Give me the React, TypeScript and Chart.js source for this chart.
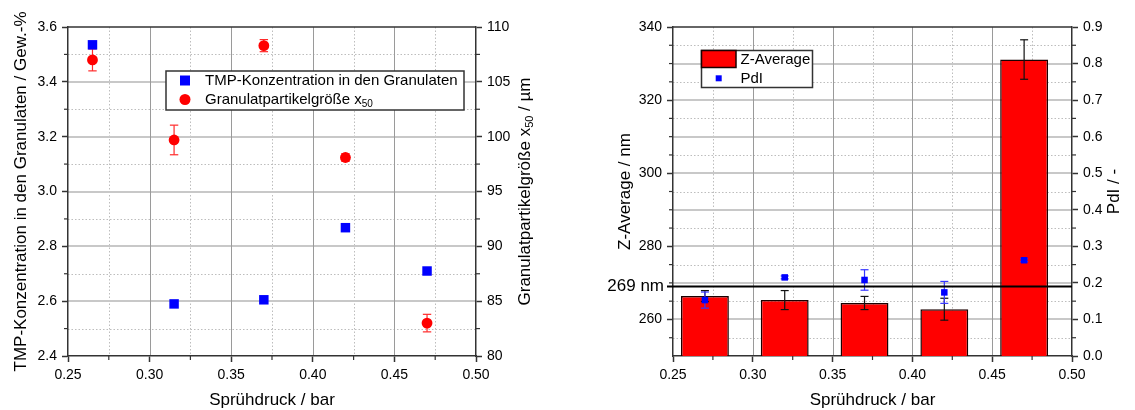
import React, { useEffect, useRef } from "react";
import { Chart, registerables } from "chart.js";
Chart.register(...registerables);

const FAMILY = '"Liberation Sans", Arial, Helvetica, sans-serif';

// ---------------- left chart data ----------------
const leftPressure = [0.265, 0.315, 0.37, 0.42, 0.47];
const tmpConcentration = [3.535, 2.59, 2.605, 2.868, 2.71];
const granuleSize = [107.0, 99.7, 108.3, 98.1, 83.0];
const granuleSizeErr = [1.0, 1.35, 0.55, 0.35, 0.8];
const leftXTicks = [0.25, 0.3, 0.35, 0.4, 0.45, 0.5];
const leftXMinor = [0.275, 0.325, 0.375, 0.425, 0.475];
const leftYTicks = [2.4, 2.6, 2.8, 3.0, 3.2, 3.4, 3.6];
const leftYMinor = [2.5, 2.7, 2.9, 3.1, 3.3, 3.5];
const leftY1Ticks = [80, 85, 90, 95, 100, 105, 110];
const leftY1Minor = [82.5, 87.5, 92.5, 97.5, 102.5, 107.5];
const leftXTitle = "Sprühdruck / bar";
const leftYTitle = "TMP-Konzentration in den Granulaten / Gew.-%";
const leftY1Title = ["Granulatpartikelgröße x", "50", " / µm"];
const leftLegendTmp = "TMP-Konzentration in den Granulaten";
const leftLegendSize = ["Granulatpartikelgröße x", "50"];

// ---------------- right chart data ----------------
const rightPressure = [0.27, 0.32, 0.37, 0.42, 0.47];
const zAverage = [266.4, 265.3, 264.5, 262.8, 331.1];
const zAverageErr = [1.5, 2.6, 1.8, 3.0, 5.4];
const pdi = [0.153, 0.215, 0.208, 0.174, 0.262];
const pdiErr = [0.022, 0.004, 0.028, 0.03, 0.004];
const zReference = 269;
const zReferenceLabel = "269 nm";
const rightXTicks = [0.25, 0.3, 0.35, 0.4, 0.45, 0.5];
const rightXMinor = [0.275, 0.325, 0.375, 0.425, 0.475];
const rightYTicks = [260, 280, 300, 320, 340];
const rightYMinor = [255, 265, 270, 275, 285, 290, 295, 305, 310, 315, 325, 330, 335];
const rightY1Ticks = [0, 0.1, 0.2, 0.3, 0.4, 0.5, 0.6, 0.7, 0.8, 0.9];
const rightY1Minor = [0.05, 0.15, 0.25, 0.35, 0.45, 0.55, 0.65, 0.75, 0.85];
const rightXTitle = "Sprühdruck / bar";
const rightYTitle = "Z-Average / nm";
const rightY1Title = "PdI / -";
const rightLegend = ["Z-Average", "PdI"];

// ---------------- helpers ----------------
const AXIS = "#333333";

function seg(ctx: CanvasRenderingContext2D, x1: number, y1: number, x2: number, y2: number) {
  ctx.beginPath();
  ctx.moveTo(x1, y1);
  ctx.lineTo(x2, y2);
  ctx.stroke();
}

function drawGrid(chart: any, yId: string, xMajor: number[], xMinor: number[], yMajor: number[], yMinor: number[]) {
  const { ctx, chartArea: a } = chart;
  const xs = chart.scales.x;
  const ys = chart.scales[yId];
  ctx.save();
  ctx.lineWidth = 1;
  ctx.strokeStyle = "#bdbdbd";
  ctx.setLineDash([1.5, 2]);
  xMinor.forEach((v) => {
    const p = Math.round(xs.getPixelForValue(v)) + 0.5;
    seg(ctx, p, a.top, p, a.bottom);
  });
  yMinor.forEach((v) => {
    const p = Math.round(ys.getPixelForValue(v)) + 0.5;
    seg(ctx, a.left, p, a.right, p);
  });
  ctx.setLineDash([]);
  ctx.strokeStyle = "#c8c8c8";
  ctx.lineWidth = 2;
  yMajor.forEach((v) => {
    const p = Math.round(ys.getPixelForValue(v));
    if (p <= a.top + 1 || p >= a.bottom - 1) return;
    seg(ctx, a.left, p, a.right, p);
  });
  ctx.strokeStyle = "#9a9a9a";
  ctx.lineWidth = 1;
  xMajor.forEach((v) => {
    const p = Math.round(xs.getPixelForValue(v)) + 0.5;
    if (p <= a.left + 1 || p >= a.right - 1) return;
    seg(ctx, p, a.top, p, a.bottom);
  });
  ctx.restore();
}

function drawMinorTicks(chart: any, id: string, values: number[], side: "left" | "right" | "bottom") {
  const { ctx, chartArea: a } = chart;
  const s = chart.scales[id];
  ctx.save();
  ctx.strokeStyle = AXIS;
  ctx.lineWidth = 1.2;
  const len = 4;
  values.forEach((v) => {
    const p = s.getPixelForValue(v);
    if (side === "bottom") seg(ctx, p, a.bottom, p, a.bottom + len);
    else if (side === "left") seg(ctx, a.left - len, p, a.left, p);
    else seg(ctx, a.right, p, a.right + len, p);
  });
  ctx.restore();
}

function drawTopBorder(chart: any) {
  const { ctx, chartArea: a } = chart;
  ctx.save();
  ctx.strokeStyle = AXIS;
  ctx.lineWidth = 1.5;
  seg(ctx, a.left, a.top, a.right, a.top);
  ctx.restore();
}

function drawErrorBars(chart: any, yId: string, xs: number[], ys: number[], errs: number[], color: string, cap: number) {
  const { ctx } = chart;
  const sx = chart.scales.x;
  const sy = chart.scales[yId];
  ctx.save();
  ctx.strokeStyle = color;
  ctx.lineWidth = 1.2;
  xs.forEach((xv, i) => {
    const e = errs[i];
    if (!e) return;
    const px = sx.getPixelForValue(xv);
    const top = sy.getPixelForValue(ys[i] + e);
    const bot = sy.getPixelForValue(ys[i] - e);
    seg(ctx, px, top, px, bot);
    seg(ctx, px - cap, top, px + cap, top);
    seg(ctx, px - cap, bot, px + cap, bot);
  });
  ctx.restore();
}

type Part = { text: string; sub?: boolean };
function drawRich(ctx: CanvasRenderingContext2D, parts: Part[], x: number, y: number, align: "left" | "center", size: number) {
  const subSize = Math.round(size * 0.66);
  const widths = parts.map((p) => {
    ctx.font = `${p.sub ? subSize : size}px ${FAMILY}`;
    return ctx.measureText(p.text).width;
  });
  const total = widths.reduce((s, w) => s + w, 0);
  let cur = align === "center" ? x - total / 2 : x;
  ctx.textAlign = "left";
  ctx.textBaseline = "middle";
  ctx.fillStyle = "#000";
  parts.forEach((p, i) => {
    ctx.font = `${p.sub ? subSize : size}px ${FAMILY}`;
    ctx.fillText(p.text, cur, p.sub ? y + size * 0.3 : y);
    cur += widths[i];
  });
}

function drawVerticalTitle(ctx: CanvasRenderingContext2D, parts: Part[], cx: number, cy: number, size: number) {
  ctx.save();
  ctx.translate(cx, cy);
  ctx.rotate(-Math.PI / 2);
  drawRich(ctx, parts, 0, 0, "center", size);
  ctx.restore();
}

const tickFont = { family: FAMILY, size: 14 };
const axisCommon = (w: number | null, h: number | null) => ({
  afterFit: (s: any) => {
    if (w !== null) s.width = w;
    if (h !== null) s.height = h;
  },
  grid: { drawOnChartArea: false, drawTicks: true, tickLength: 6, tickColor: AXIS, tickWidth: 1.5, offset: false },
  border: { color: AXIS, width: 1.5 },
});

// ---------------- configs ----------------
function leftConfig(): any {
  const plugin = {
    id: "leftDeco",
    beforeDraw(chart: any) {
      drawGrid(chart, "y", leftXTicks, leftXMinor, leftYTicks, leftYMinor);
    },
    beforeDatasetDraw(chart: any, args: any) {
      if (args.index === 1) {
        drawErrorBars(chart, "y1", leftPressure, granuleSize, granuleSizeErr, "#ff2a2a", 4.2);
      }
    },
    afterDraw(chart: any) {
      const { ctx, chartArea: a } = chart;
      drawTopBorder(chart);
      drawMinorTicks(chart, "x", leftXMinor, "bottom");
      drawMinorTicks(chart, "y", leftYMinor, "left");
      drawMinorTicks(chart, "y1", leftY1Minor, "right");
      // titles
      drawRich(ctx, [{ text: leftXTitle }], (a.left + a.right) / 2, 400, "center", 17);
      drawVerticalTitle(ctx, [{ text: leftYTitle }], 21, (a.top + a.bottom) / 2, 17);
      drawVerticalTitle(
        ctx,
        [{ text: leftY1Title[0] }, { text: leftY1Title[1], sub: true }, { text: leftY1Title[2] }],
        525,
        (a.top + a.bottom) / 2,
        17
      );
      // legend
      ctx.save();
      ctx.fillStyle = "#fff";
      ctx.fillRect(166, 71, 298, 39);
      ctx.strokeStyle = AXIS;
      ctx.lineWidth = 1.5;
      ctx.strokeRect(166, 71, 298, 39);
      ctx.fillStyle = "#0000ff";
      ctx.fillRect(180, 75.5, 10, 10);
      ctx.fillStyle = "#ff0000";
      ctx.beginPath();
      ctx.arc(185, 99.5, 5.5, 0, Math.PI * 2);
      ctx.fill();
      ctx.restore();
      drawRich(ctx, [{ text: leftLegendTmp }], 205, 80.5, "left", 15);
      drawRich(ctx, [{ text: leftLegendSize[0] }, { text: leftLegendSize[1], sub: true }], 205, 99.5, "left", 15);
    },
  };
  return {
    type: "scatter",
    data: {
      datasets: [
        {
          label: leftLegendTmp,
          data: leftPressure.map((x, i) => ({ x, y: tmpConcentration[i] })),
          yAxisID: "y",
          pointStyle: "rect",
          pointRadius: 6.7,
          backgroundColor: "#0000ff",
          borderColor: "#0000ff",
          borderWidth: 0,
        },
        {
          label: leftLegendSize.join(""),
          data: leftPressure.map((x, i) => ({ x, y: granuleSize[i] })),
          yAxisID: "y1",
          pointStyle: "circle",
          pointRadius: 5.4,
          backgroundColor: "#ff0000",
          borderColor: "#ff0000",
          borderWidth: 0,
        },
      ],
    },
    options: {
      animation: false,
      responsive: true,
      maintainAspectRatio: false,
      events: [],
      layout: { padding: { top: 27, left: 0, right: 0, bottom: 0 } },
      plugins: { legend: { display: false }, tooltip: { enabled: false } },
      scales: {
        x: {
          type: "linear",
          position: "bottom",
          min: 0.25,
          max: 0.5,
          ...axisCommon(null, 54),
          afterBuildTicks: (s: any) => {
            s.ticks = leftXTicks.map((v) => ({ value: v }));
          },
          ticks: { font: tickFont, color: "#000", padding: 5, maxRotation: 0, autoSkip: false, callback: (v: any) => Number(v).toFixed(2) },
        },
        y: {
          type: "linear",
          position: "left",
          min: 2.4,
          max: 3.6,
          ...axisCommon(68, null),
          afterBuildTicks: (s: any) => {
            s.ticks = leftYTicks.map((v) => ({ value: v }));
          },
          ticks: { font: tickFont, color: "#000", padding: 5, autoSkip: false, callback: (v: any) => Number(v).toFixed(1) },
        },
        y1: {
          type: "linear",
          position: "right",
          min: 80,
          max: 110,
          ...axisCommon(94, null),
          afterBuildTicks: (s: any) => {
            s.ticks = leftY1Ticks.map((v) => ({ value: v }));
          },
          ticks: { font: tickFont, color: "#000", padding: 5, autoSkip: false, callback: (v: any) => String(v) },
        },
      },
    },
    plugins: [plugin],
  };
}

function rightConfig(): any {
  const plugin = {
    id: "rightDeco",
    beforeDraw(chart: any) {
      drawGrid(chart, "y1", rightXTicks, rightXMinor, rightY1Ticks, rightY1Minor);
    },
    beforeDatasetDraw(chart: any, args: any) {
      if (args.index === 0) {
        drawErrorBars(chart, "y1", rightPressure, pdi, pdiErr, "#3535ff", 4);
      }
    },
    afterDatasetDraw(chart: any, args: any) {
      if (args.index === 1) {
        drawErrorBars(chart, "y", rightPressure, zAverage, zAverageErr, "#111111", 4);
      }
    },
    afterDatasetsDraw(chart: any) {
      const { ctx, chartArea: a } = chart;
      const p = chart.scales.y.getPixelForValue(zReference);
      ctx.save();
      ctx.strokeStyle = "#000";
      ctx.lineWidth = 2;
      seg(ctx, a.left - 6, p, a.right, p);
      ctx.restore();
    },
    afterDraw(chart: any) {
      const { ctx, chartArea: a } = chart;
      drawTopBorder(chart);
      drawMinorTicks(chart, "x", rightXMinor, "bottom");
      drawMinorTicks(chart, "y", rightYMinor, "left");
      drawMinorTicks(chart, "y1", rightY1Minor, "right");
      const p = chart.scales.y.getPixelForValue(zReference);
      ctx.save();
      ctx.font = `17px ${FAMILY}`;
      ctx.fillStyle = "#000";
      ctx.textAlign = "right";
      ctx.textBaseline = "middle";
      ctx.fillText(zReferenceLabel, 94, p);
      ctx.restore();
      drawRich(ctx, [{ text: rightXTitle }], (a.left + a.right) / 2, 400, "center", 17);
      drawVerticalTitle(ctx, [{ text: rightYTitle }], 55, (a.top + a.bottom) / 2, 17);
      drawVerticalTitle(ctx, [{ text: rightY1Title }], 544, (a.top + a.bottom) / 2, 17);
      // legend
      ctx.save();
      ctx.fillStyle = "#fff";
      ctx.fillRect(131.5, 50.5, 111, 37);
      ctx.strokeStyle = AXIS;
      ctx.lineWidth = 1.5;
      ctx.strokeRect(131.5, 50.5, 111, 37);
      ctx.fillStyle = "#ff0000";
      ctx.fillRect(131.5, 50.5, 34.5, 17);
      ctx.strokeStyle = "#1a0000";
      ctx.strokeRect(131.5, 50.5, 34.5, 17);
      ctx.fillStyle = "#0000ff";
      ctx.fillRect(145.7, 75.3, 6, 6);
      ctx.restore();
      drawRich(ctx, [{ text: rightLegend[0] }], 170.5, 59.5, "left", 15);
      drawRich(ctx, [{ text: rightLegend[1] }], 170.5, 78.5, "left", 15);
    },
  };
  return {
    type: "bar",
    data: {
      datasets: [
        {
          type: "line",
          label: rightLegend[1],
          data: rightPressure.map((x, i) => ({ x, y: pdi[i] })),
          yAxisID: "y1",
          showLine: false,
          pointStyle: "rect",
          pointRadius: 4.6,
          backgroundColor: "#0000ff",
          borderColor: "#0000ff",
          borderWidth: 0,
          order: 1,
        },
        {
          type: "bar",
          label: rightLegend[0],
          data: rightPressure.map((x, i) => ({ x, y: zAverage[i] })),
          yAxisID: "y",
          backgroundColor: "#ff0000",
          borderColor: "#1a0000",
          borderWidth: 1.5,
          borderSkipped: false,
          barPercentage: 0.75,
          categoryPercentage: 0.8,
          order: 2,
        },
      ],
    },
    options: {
      animation: false,
      responsive: true,
      maintainAspectRatio: false,
      events: [],
      layout: { padding: { top: 27, left: 0, right: 0, bottom: 0 } },
      plugins: { legend: { display: false }, tooltip: { enabled: false } },
      scales: {
        x: {
          type: "linear",
          position: "bottom",
          min: 0.25,
          max: 0.5,
          offset: false,
          ...axisCommon(null, 54),
          afterBuildTicks: (s: any) => {
            s.ticks = rightXTicks.map((v) => ({ value: v }));
          },
          ticks: { font: tickFont, color: "#000", padding: 5, maxRotation: 0, autoSkip: false, callback: (v: any) => Number(v).toFixed(2) },
        },
        y: {
          type: "linear",
          position: "left",
          min: 250,
          max: 340,
          ...axisCommon(103, null),
          afterBuildTicks: (s: any) => {
            s.ticks = rightYTicks.map((v) => ({ value: v }));
          },
          ticks: { font: tickFont, color: "#000", padding: 5, autoSkip: false, callback: (v: any) => String(v) },
        },
        y1: {
          type: "linear",
          position: "right",
          min: 0,
          max: 0.9,
          ...axisCommon(63, null),
          afterBuildTicks: (s: any) => {
            s.ticks = rightY1Ticks.map((v) => ({ value: v }));
          },
          ticks: { font: tickFont, color: "#000", padding: 5, autoSkip: false, callback: (v: any) => Number(v).toFixed(1) },
        },
      },
    },
    plugins: [plugin],
  };
}

function ChartBox({ left, width, make }: { left: number; width: number; make: () => any }) {
  const ref = useRef<HTMLCanvasElement>(null);
  useEffect(() => {
    const chart = new Chart(ref.current as HTMLCanvasElement, make());
    return () => chart.destroy();
  }, []);
  return (
    <div style={{ position: "absolute", left, top: 0, width, height: 410 }}>
      <canvas ref={ref} />
    </div>
  );
}

export default function App() {
  return (
    <div style={{ position: "fixed", left: 0, top: 0, width: 1135, height: 410, background: "#fff" }}>
      <ChartBox left={0} width={570} make={leftConfig} />
      <ChartBox left={570} width={565} make={rightConfig} />
    </div>
  );
}
